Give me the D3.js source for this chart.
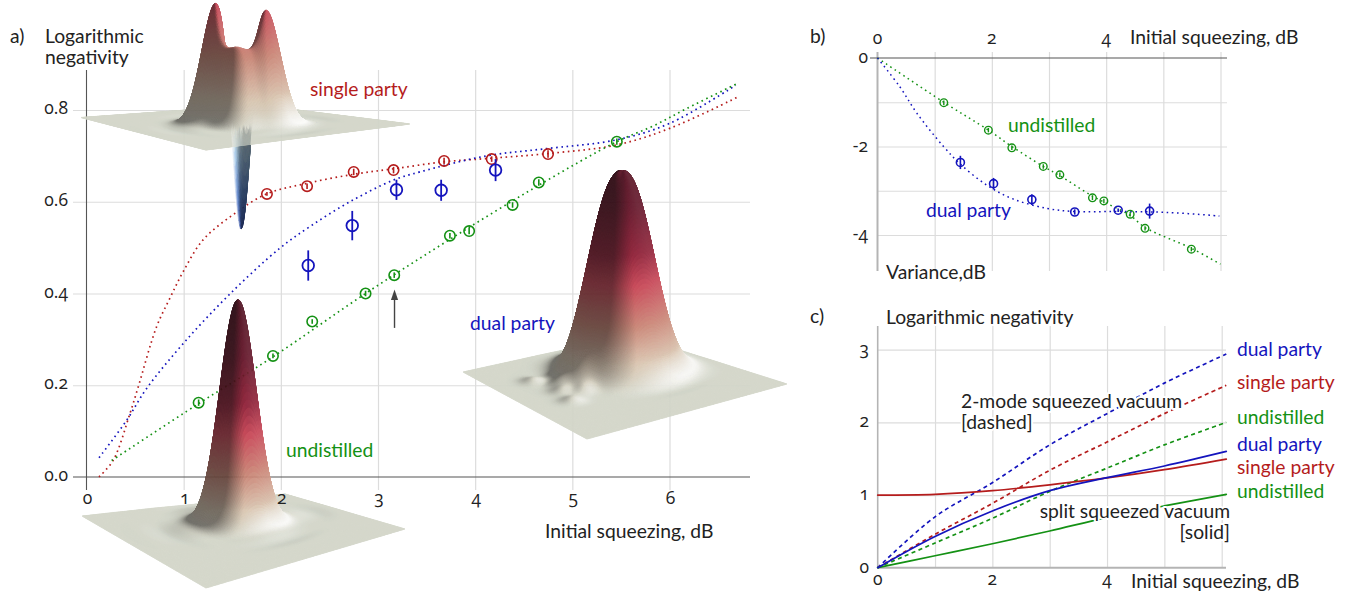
<!DOCTYPE html>
<html><head><meta charset="utf-8">
<script src="https://cdn.jsdelivr.net/npm/d3@7"></script>
<style>
html,body{margin:0;padding:0;background:#fff}
svg{display:block}
text{font-family:Lato,"Open Sans",sans-serif;fill:#222;font-size:19.3px}
text.num{font-family:"Open Sans",sans-serif;font-feature-settings:"onum" 1;font-variant-numeric:oldstyle-nums;font-size:17.5px}
</style></head><body>
<svg id="c" width="1351" height="594"></svg>
<script>
// ---------- data, panel a ----------
const aTicksX=[0,1,2,3,4,5,6], aGridX=[1,2,3,4,5,6], aTicksY=[0,0.2,0.4,0.6,0.8];
const aRedX=[1.857,2.27,2.75,3.16,3.68,4.17,4.75];
const aRedY=[0.617,0.634,0.665,0.669,0.689,0.693,0.704];
const aRedErr=[0.004,0.006,0.007,0.007,0.007,0.006,0.008];
const aBlueX=[2.282,2.735,3.19,3.65,4.21];
const aBlueY=[0.461,0.548,0.626,0.625,0.669];
const aBlueErr=[0.033,0.032,0.022,0.023,0.024];
const aGreenX=[1.154,1.919,2.323,2.872,3.167,3.74,3.938,4.385,4.655,5.458];
const aGreenY=[0.162,0.264,0.339,0.400,0.440,0.526,0.536,0.593,0.642,0.731];
const aGreenErr=[0.007,0.005,0.005,0.006,0.006,0.006,0.007,0.006,0.007,0.007];
const aRedCurveX=[0.129,0.276,0.448,0.533,0.722,0.859,0.996,1.20,1.51,1.854,2.265,2.752,3.164,3.678,4.172,4.748,5.458,6.003,6.69];
const aRedCurveY=[0,0.037,0.139,0.197,0.328,0.390,0.448,0.517,0.572,0.617,0.640,0.660,0.672,0.687,0.695,0.705,0.724,0.760,0.827];
const aBlueCurveX=[0.129,0.414,0.619,0.996,1.476,1.991,2.30,2.711,3.156,3.431,4.117,4.70,5.455,6.003,6.682];
const aBlueCurveY=[0.042,0.124,0.193,0.291,0.399,0.499,0.546,0.600,0.647,0.665,0.700,0.715,0.735,0.771,0.854];
const aGreenCurveX=[0.259,1.154,1.919,2.872,3.74,4.655,5.458,5.83,6.175,6.682];
const aGreenCurveY=[0.036,0.160,0.262,0.400,0.518,0.636,0.731,0.765,0.803,0.856];
// ---------- data, panel b ----------
const bTicksX=[0,2,4], bGridX=[1,2,3,4,5,6], bTicksY=[0,-2,-4], bGridY=[-1,-2,-3,-4];
const bGreenX=[1.16,1.94,2.35,2.90,3.19,3.76,3.96,4.42,4.68,5.49];
const bGreenY=[-1.01,-1.63,-2.03,-2.45,-2.64,-3.16,-3.23,-3.53,-3.85,-4.32];
const bBlueX=[1.45,2.03,2.70,3.45,4.21,4.76];
const bBlueY=[-2.36,-2.84,-3.20,-3.48,-3.44,-3.46];
const bBlueErr=[0.15,0.13,0.12,0.06,0.04,0.17];
const bGreenCurveX=[0,1.16,1.94,2.35,2.90,3.19,3.76,4.42,4.68,5.49,6.0];
const bGreenCurveY=[0,-1.0,-1.63,-2.0,-2.45,-2.66,-3.12,-3.56,-3.83,-4.30,-4.66];
const bBlueCurveX=[0,0.39,0.69,1.155,1.45,1.92,2.38,2.97,3.45,4.2,5.07,5.98];
const bBlueCurveY=[0,-0.65,-1.25,-2.0,-2.4,-2.88,-3.19,-3.40,-3.47,-3.47,-3.49,-3.57];
// ---------- data, panel c ----------
const cTicksX=[0,2,4], cGridX=[1,2,3,4,5,6], cTicksY=[0,1,2,3];
const cX=[0,1,2,3,4,5,6.08];
const cDualDashed=[0,0.70,1.17,1.69,2.12,2.54,2.94];
const cSingleDashed=[0,0.46,0.885,1.34,1.73,2.12,2.51];
const cUndistDashed=[0,0.34,0.68,1.05,1.37,1.69,2.0];
const cDualSolid=[0,0.43,0.78,1.06,1.24,1.40,1.6];
const cSingleSolid=[1,1.01,1.06,1.14,1.235,1.35,1.495];
const cUndistSolid=[0,0.165,0.33,0.505,0.69,0.85,1.01];

const RED="#b51c1c",GREEN="#149114",BLUE="#1414bd",INK="#222";
const svg=d3.select("#c");
const gUnder=svg.append("g"), gSurf=svg.append("g"), gOver=svg.append("g");

function gridlines(g,xs,ys,x,y,x0,x1,y0,y1,col="#dcdcdc"){
  const gx=g.append("g").attr("transform",`translate(0,${y1})`)
    .call(d3.axisBottom(x).tickValues(xs).tickSize(y0-y1).tickFormat(""));
  gx.select(".domain").remove(); gx.selectAll("line").attr("stroke",col).attr("stroke-width",1.2);
  const gy=g.append("g").attr("transform",`translate(${x1},0)`)
    .call(d3.axisRight(y).tickValues(ys).tickSize(x0-x1).tickFormat(""));
  gy.select(".domain").remove(); gy.selectAll("line").attr("stroke",col).attr("stroke-width",1.2);
}
function tickText(g,vals,fx,fy,anchor,fmt){
  g.selectAll(null).data(vals).join("text").attr("class","num").attr("x",fx).attr("y",fy).attr("text-anchor",anchor).text(fmt);
}
const zip=(a,b)=>a.map((v,i)=>[v,b[i]]);
function curve(g,xs,ys,x,y,col,dash,w=1.7,cv=d3.curveCatmullRom.alpha(0.5)){
  g.append("path").attr("d",d3.line().x(d=>x(d[0])).y(d=>y(d[1])).curve(cv)(zip(xs,ys)))
   .attr("fill","none").attr("stroke",col).attr("stroke-width",w)
   .attr("stroke-dasharray",dash||null).attr("stroke-linecap",dash?"butt":"round");
}
function markers(g,xs,ys,errs,x,y,col,r,w){
  const s=g.append("g").attr("stroke",col).attr("fill","none").attr("stroke-width",w);
  s.selectAll("circle").data(zip(xs,ys)).join("circle").attr("cx",d=>x(d[0])).attr("cy",d=>y(d[1])).attr("r",r);
  s.selectAll("line").data(xs.map((v,i)=>[v,ys[i],errs[i]])).join("line")
    .attr("x1",d=>x(d[0])).attr("x2",d=>x(d[0])).attr("y1",d=>y(d[1]-d[2])).attr("y2",d=>y(d[1]+d[2]));
}
function label(g,t,x,y,col=INK,anchor="start",halo=false){
  const e=g.append("text").attr("x",x).attr("y",y).attr("text-anchor",anchor).style("fill",col).text(t);
  if(halo)e.attr("stroke","#fff").attr("stroke-width",4).attr("paint-order","stroke").attr("stroke-linejoin","round");
}

// ---------- panel a ----------
const ax=d3.scaleLinear().domain([0,6]).range([86.5,669.5]);
const ay=d3.scaleLinear().domain([0,0.8]).range([477,110]);
gridlines(gUnder,aGridX,aTicksY.slice(1),ax,ay,73,750,70,490);
gUnder.append("g").attr("transform","translate(86.5,0)").call(d3.axisLeft(ay).tickValues([]).tickSize(0))
  .select(".domain").attr("d","M0,70V490").attr("stroke","#555").attr("stroke-width",1.1);
gUnder.append("g").attr("transform","translate(0,477)").call(d3.axisBottom(ax).tickValues([]).tickSize(0))
  .select(".domain").attr("d","M73,0H750").attr("stroke","#555").attr("stroke-width",1.1);
const DOT="1.6 3.6";
curve(gUnder,aRedCurveX,aRedCurveY,ax,ay,RED,DOT);
curve(gUnder,aBlueCurveX,aBlueCurveY,ax,ay,BLUE,DOT);
curve(gUnder,aGreenCurveX,aGreenCurveY,ax,ay,GREEN,DOT);
markers(gUnder,aRedX,aRedY,aRedErr,ax,ay,RED,5.2,1.6);
markers(gUnder,aGreenX,aGreenY,aGreenErr,ax,ay,GREEN,5.2,1.6);
markers(gUnder,aBlueX,aBlueY,aBlueErr,ax,ay,BLUE,5.8,1.8);
tickText(gOver,aTicksY,68,d=>ay(d)+4,"end",d3.format(".1f"));
tickText(gOver,aTicksX,d=>ax(d)+1,d=>504,"middle",d3.format("d"));
label(gOver,"a)",10,43);label(gOver,"Logarithmic",45,43);label(gOver,"negativity",45,64);
label(gOver,"single party",310,96,RED);label(gOver,"dual party",470,330,BLUE);label(gOver,"undistilled",286,457,GREEN);
label(gOver,"Initial squeezing, dB",545,538);
// arrow
const arrowX=3.17, arrowY=[0.325,0.40];
gOver.append("path").attr("d",`M${ax(arrowX)},${ay(arrowY[0])}V${ay(arrowY[1])}`).attr("stroke","#444").attr("stroke-width",1.4);
gOver.append("path").attr("d",d3.symbol(d3.symbolTriangle,40)()).attr("fill","#444")
  .attr("transform",`translate(${ax(arrowX)},${ay(arrowY[1])+3}) scale(.75,1.25)`);

// ---------- panel b ----------
const bx=d3.scaleLinear().domain([0,6]).range([877.5,1220.5]);
const by=d3.scaleLinear().domain([0,-4]).range([58,235]);
gridlines(gUnder,bGridX,bGridY,bx,by,877.5,1227,52,271);
gUnder.append("path").attr("d","M877.5,52V271").attr("stroke","#b4b4b4").attr("stroke-width",2);
gUnder.append("path").attr("d","M870,58H1227").attr("stroke","#555").attr("stroke-width",1.1);
curve(gUnder,bGreenCurveX,bGreenCurveY,bx,by,GREEN,DOT,1.5);
curve(gUnder,bBlueCurveX,bBlueCurveY,bx,by,BLUE,DOT,1.5);
markers(gUnder,bGreenX,bGreenY,bGreenX.map(()=>0.05),bx,by,GREEN,3.8,1.4);
markers(gUnder,bBlueX,bBlueY,bBlueErr,bx,by,BLUE,4,1.6);
tickText(gOver,bTicksX,d=>bx(d),()=>44,"middle",d3.format("d"));
tickText(gOver,bTicksY,868,d=>by(d)+5,"end",d=>d===0?"0":"-"+(-d));
label(gOver,"b)",810,43);label(gOver,"Initial squeezing, dB",1130,44);label(gOver,"Variance,dB",886,279);
label(gOver,"undistilled",1008,132,GREEN);label(gOver,"dual party",926,217,BLUE);

// ---------- panel c ----------
const cx=d3.scaleLinear().domain([0,6]).range([877.7,1221.7]);
const cy=d3.scaleLinear().domain([0,3]).range([567.7,349.7]);
gridlines(gUnder,cGridX,cTicksY.slice(1),cx,cy,877.7,1226,326,567.7);
gUnder.append("path").attr("d","M877.7,326V568").attr("stroke","#b4b4b4").attr("stroke-width",1.6);
gUnder.append("path").attr("d","M877,567.7H1226").attr("stroke","#b4b4b4").attr("stroke-width",2);
const DASH="4 3.4";
curve(gUnder,cX,cDualDashed,cx,cy,BLUE,DASH);
curve(gUnder,cX,cSingleDashed,cx,cy,RED,DASH);
curve(gUnder,cX,cUndistDashed,cx,cy,GREEN,DASH);
curve(gUnder,cX,cUndistSolid,cx,cy,GREEN,null);
curve(gUnder,cX,cSingleSolid,cx,cy,RED,null);
curve(gUnder,cX,cDualSolid,cx,cy,BLUE,null);
tickText(gOver,cTicksX,d=>cx(d),()=>585,"middle",d3.format("d"));
tickText(gOver,cTicksY,869,d=>cy(d)+5,"end",d3.format("d"));
label(gOver,"c)",810,323);label(gOver,"Logarithmic negativity",886,324);label(gOver,"Initial squeezing, dB",1131,588);
label(gOver,"dual party",1237,356,BLUE);label(gOver,"single party",1237,389,RED);label(gOver,"undistilled",1237,424,GREEN);
label(gOver,"dual party",1237,451,BLUE);label(gOver,"single party",1237,474,RED);label(gOver,"undistilled",1237,498,GREEN);
label(gOver,"2-mode squeezed vacuum",961,408,INK,"start",true);label(gOver,"[dashed]",961,429,INK,"start",true);
label(gOver,"split squeezed vacuum",1230,518,INK,"end",true);label(gOver,"[solid]",1230,539,INK,"end",true);

// ---------- 3-D Wigner illustrations (decorative surfaces, rendered to an image) ----------
const g2=(s,t,cs,ct,sg)=>Math.exp(-((s-cs)*(s-cs)+(t-ct)*(t-ct))/(2*sg*sg));
function ripple(s,t,cs,ct,a){
  const ds=s-cs,dt=t-ct,r=Math.hypot(ds,dt),ang=Math.atan2(dt,ds);
  return a*Math.exp(-Math.pow(r/0.36,4))*Math.sin(r*30)*(0.5+0.5*Math.cos(4*ang));
}
const surfaces=[
 {T:[285,494],R:[405,529],L:[82,516],B:[206,588],cs:1,
  h:(s,t)=>224*g2(s,t,.38,.46,.076)+ripple(s,t,.38,.46,1.5)},
 {T:[632,335],R:[787,384],L:[463,372],B:[587,439],cs:1,
  h:(s,t)=>{const d=((s-.385)**2+(t-.385)**2)/(2*.125*.125);
    return 199*Math.exp(-Math.pow(d,1.2))+16*g2(s,t,.34,.56,.06)+7*g2(s,t,.42,.66,.05)
      +4*g2(s,t,.38,.73,.035)+4*g2(s,t,.46,.77,.035)+4*g2(s,t,.52,.70,.035)+4*g2(s,t,.31,.68,.035)+3.5*g2(s,t,.28,.80,.035)
      +3.5*g2(s,t,.58,.80,.035)+ripple(s,t,.385,.385,1.6);}},
 {T:[257,105],R:[410,124],L:[81,117.5],B:[206,150],cs:.78,
  h:(s,t)=>{const c=[.53,.51],dl=.073;
    return 122*g2(s,t,c[0]-dl,c[1]+dl,.064)+116*g2(s,t,c[0]+dl,c[1]-dl,.064)
      +74*g2(s,t,c[0]+.055,c[1]+.055,.055)
      -194*g2(s,t,c[0],c[1],.04)+ripple(s,t,c[0],c[1],1.2);}}
];
const posMap=d3.scaleLinear().domain([0,.1,.25,.42,.55,.75,1])
  .range(["#d2d5c8","#d8c4ae","#c98272","#c63f50","#8c1a32","#601024","#4a0a1a"]).clamp(true);
const negMap=d3.scaleLinear().domain([-.46,-.3,-.1,0])
  .range(["#2645a8","#4f7fd0","#a9d2ee","#d2d5c8"]).clamp(true);
const LIGHT=(()=>{const v=[.62,-.62,.5],n=Math.hypot(...v);return v.map(d=>d/n);})();
const canvas=document.createElement("canvas");canvas.width=1351;canvas.height=594;
const ctx=canvas.getContext("2d");
function shadeColor(z,hs,ht){
  const W=230,nx=-hs/W,ny=-ht/W,nn=Math.hypot(nx,ny,1);
  const ndl=Math.max(0,(nx*LIGHT[0]+ny*LIGHT[1]+LIGHT[2])/nn);
  const amb=z<0?.45:.5;
  const f=amb+(1-amb)*ndl/LIGHT[2];
  const c=d3.rgb(z>=0?posMap(z):negMap(z));
  if(f<=1)return d3.rgb(c.r*f,c.g*f,c.b*f);
  const k=Math.min(1,(f-1)*2.6)*(.06+.94*Math.max(0,1-Math.max(z,0)/.12));
  return d3.rgb(c.r+(255-c.r)*k,c.g+(255-c.g)*k,c.b+(255-c.b)*k);
}
function draw(S){
  const N=230,du=1/N;
  const P=(s,t)=>{const h=S.h(s,t);
    return [S.T[0]*(1-s)*(1-t)+S.R[0]*s*(1-t)+S.L[0]*(1-s)*t+S.B[0]*s*t,
            S.T[1]*(1-s)*(1-t)+S.R[1]*s*(1-t)+S.L[1]*(1-s)*t+S.B[1]*s*t-h,h];};
  const quads=[];
  for(let i=0;i<N;i++)for(let j=0;j<N;j++){
    const s=i*du,t=j*du,a=P(s,t),b=P(s+du,t),c=P(s+du,t+du),d=P(s,t+du);
    const hs=(b[2]+c[2]-a[2]-d[2])/(2*du),ht=(d[2]+c[2]-a[2]-b[2])/(2*du),hm=(a[2]+b[2]+c[2]+d[2])/4;
    const col=shadeColor(hm<0?hm/224:S.cs*hm/224,hs,ht)+"";
    const q=[a,b,c,d];
    ctx.fillStyle=col;ctx.strokeStyle=col;ctx.lineWidth=.7;
    ctx.beginPath();ctx.moveTo(a[0],a[1]);ctx.lineTo(b[0],b[1]);ctx.lineTo(c[0],c[1]);ctx.lineTo(d[0],d[1]);ctx.closePath();ctx.fill();ctx.stroke();
    if(hm<-6)quads.push([q,col]);
  }
  // below-floor part shows through the translucent floor
  ctx.globalAlpha=.22;
  for(const [q,col] of quads){
    ctx.fillStyle=col;ctx.beginPath();ctx.moveTo(q[0][0],q[0][1]);for(let k=1;k<4;k++)ctx.lineTo(q[k][0],q[k][1]);ctx.closePath();ctx.fill();
  }
  ctx.globalAlpha=1;
}
surfaces.forEach(draw);
gSurf.append("image").attr("href",canvas.toDataURL("image/png")).attr("x",0).attr("y",0)
  .attr("width",1351).attr("height",594).attr("opacity",.93);
</script>
</body></html>
